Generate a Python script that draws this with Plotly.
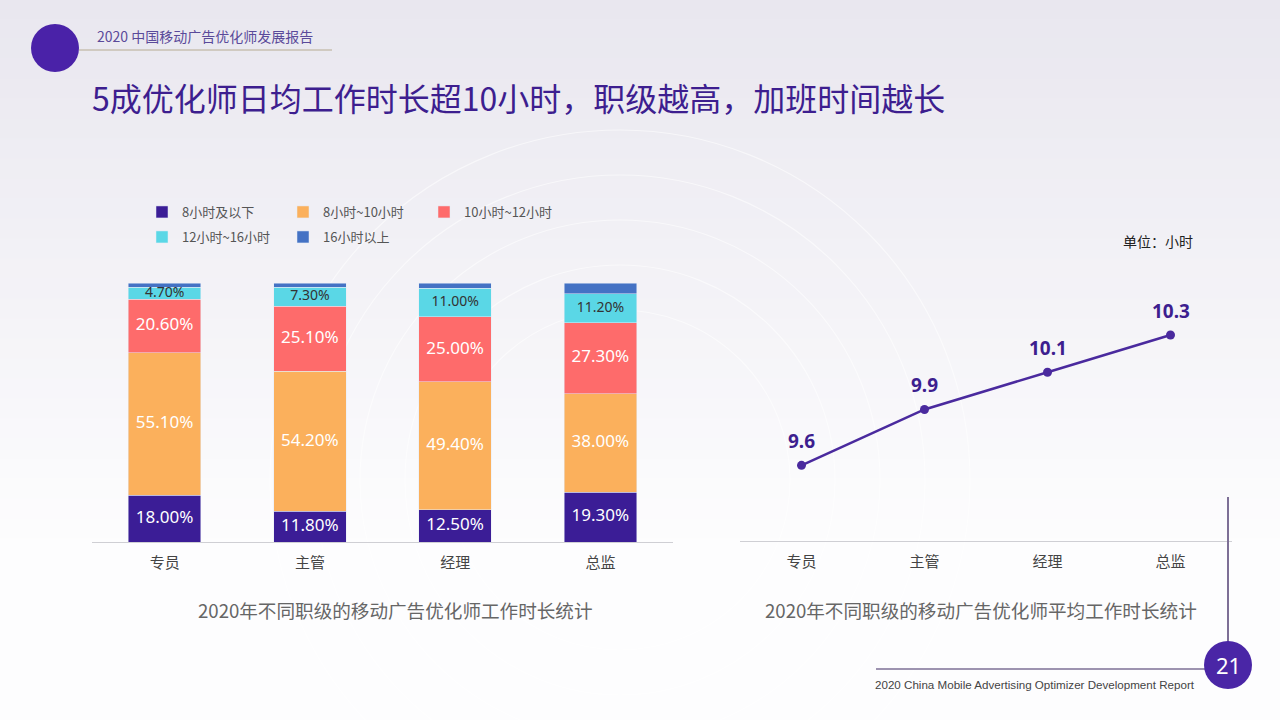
import plotly.graph_objects as go

# ---------------- data ----------------
levels = ["专员", "主管", "经理", "总监"]
series_names = ["8小时及以下", "8小时~10小时", "10小时~12小时", "12小时~16小时", "16小时以上"]
s_le8 = [18.0, 11.8, 12.5, 19.3]
s_8_10 = [55.1, 54.2, 49.4, 38.0]
s_10_12 = [20.6, 25.1, 25.0, 27.3]
s_12_16 = [4.7, 7.3, 11.0, 11.2]
s_gt16 = [1.6, 1.6, 2.1, 4.2]
avg_hours = [9.6, 9.9, 10.1, 10.3]

series_values = [s_le8, s_8_10, s_10_12, s_12_16, s_gt16]
colors = ["#3b1d96", "#fbb05c", "#fe6b6b", "#5ad7e6", "#4472c4"]
label_colors = ["white", "white", "white", "#333333", None]
label_sizes = [17, 17, 17, 14, None]

W, H = 1280, 720
CJK = "Noto Sans CJK SC, Noto Sans, sans-serif"
NUM = "Noto Sans, Noto Sans CJK SC, sans-serif"
PURPLE = "#3d1e8f"

fig = go.Figure()

# stacked bars
for i, (name, vals, col) in enumerate(zip(series_names, series_values, colors)):
    fig.add_trace(go.Bar(
        x=levels, y=vals, name=name, marker_color=col, width=0.5,
        xaxis="x", yaxis="y", legend="legend" if i < 3 else "legend2",
        hovertemplate="%{x} " + name + ": %{y:.2f}%<extra></extra>",
    ))

# labels at segment midpoints
base = [0.0] * len(levels)
for i, vals in enumerate(series_values):
    mids = [b + v / 2 for b, v in zip(base, vals)]
    if label_colors[i] is not None:
        fig.add_trace(go.Scatter(
            x=levels, y=mids, mode="text", text=[f"{v:.2f}%" for v in vals],
            textfont=dict(color=label_colors[i], size=label_sizes[i], family=NUM),
            xaxis="x", yaxis="y", showlegend=False, hoverinfo="skip",
        ))
    base = [b + v for b, v in zip(base, vals)]

# line chart
fig.add_trace(go.Scatter(
    x=levels, y=avg_hours, mode="lines+markers",
    line=dict(color="#4a2a9e", width=2.5), marker=dict(size=9, color="#4a2a9e"),
    xaxis="x2", yaxis="y2", showlegend=False,
    hovertemplate="%{x}: %{y}<extra></extra>",
))
annotations = []
for lv, v in zip(levels, avg_hours):
    annotations.append(dict(x=lv, y=v, xref="x2", yref="y2", text=f"<b>{v}</b>",
                            showarrow=False, yshift=24,
                            font=dict(size=19, color=PURPLE, family=NUM)))

# ---------------- decorations ----------------
shapes = []
# background gradient bands
top = (233, 231, 239)
bot = (253, 253, 254)
n = 36
for k in range(n):
    t = min(1.0, k / (n * 0.75))
    c = tuple(int(round(top[j] + (bot[j] - top[j]) * t)) for j in range(3))
    shapes.append(dict(type="rect", xref="paper", yref="paper", x0=0, x1=1,
                       y0=1 - (k + 1) / n, y1=1 - k / n + 0.002, line=dict(width=0),
                       fillcolor=f"rgb{c}", layer="below"))
# faint arcs
for r in [170, 215, 260, 305, 350]:
    shapes.append(dict(type="circle", xref="paper", yref="paper",
                       x0=(620 - r) / W, x1=(620 + r) / W,
                       y0=1 - (480 + r) / H, y1=1 - (480 - r) / H,
                       line=dict(color="rgba(255,255,255,0.55)", width=1.2), layer="below"))
# header circle and line
shapes.append(dict(type="circle", xref="paper", yref="paper",
                   x0=31 / W, x1=79 / W, y0=1 - 72 / H, y1=1 - 24 / H,
                   fillcolor="#4a22a8", line=dict(width=0)))
shapes.append(dict(type="line", xref="paper", yref="paper",
                   x0=79 / W, x1=332 / W, y0=1 - 50 / H, y1=1 - 50 / H,
                   line=dict(color="#b5ab92", width=1.2)))
# right vertical line & footer
shapes.append(dict(type="line", xref="paper", yref="paper",
                   x0=1228 / W, x1=1228 / W, y0=1 - 497 / H, y1=1 - 660 / H,
                   line=dict(color="#7d6f96", width=2)))
shapes.append(dict(type="line", xref="paper", yref="paper",
                   x0=876 / W, x1=1210 / W, y0=1 - 669 / H, y1=1 - 669 / H,
                   line=dict(color="#7d6f96", width=1.5)))
shapes.append(dict(type="circle", xref="paper", yref="paper",
                   x0=1204 / W, x1=1252 / W, y0=1 - 689 / H, y1=1 - 641 / H,
                   fillcolor="#4a26a6", line=dict(width=0)))

def ann(text, x, y, size, color, xanchor="left", family=CJK):
    annotations.append(dict(text=text, x=x / W, y=1 - y / H, xref="paper", yref="paper",
                            xanchor=xanchor, yanchor="middle", showarrow=False,
                            font=dict(size=size, color=color, family=family)))

ann("2020 中国移动广告优化师发展报告", 95, 36, 14, "#5a4a9a")
ann("5成优化师日均工作时长超10小时，职级越高，加班时间越长", 90, 97, 32, PURPLE)
ann("单位：小时", 1121, 241, 14, "#222222")
ann("2020年不同职级的移动广告优化师工作时长统计", 395, 609, 18.6, "#666666", "center")
ann("2020年不同职级的移动广告优化师平均工作时长统计", 981, 609, 18.6, "#666666", "center")
ann("2020 China Mobile Advertising Optimizer Development Report", 1035, 684, 11.6,
    "#444444", "center", "Liberation Sans, Arial, sans-serif")
ann("21", 1228, 665, 22, "white", "center", NUM)

legend_common = dict(orientation="h", bgcolor="rgba(0,0,0,0)",
                     font=dict(size=13, color="#555555", family=CJK),
                     entrywidth=96, entrywidthmode="pixels",
                     itemwidth=30, xanchor="left", yanchor="middle", traceorder="normal")

fig.update_layout(
    width=W, height=H, margin=dict(l=0, r=0, t=0, b=0),
    paper_bgcolor="white", plot_bgcolor="rgba(0,0,0,0)",
    barmode="stack", bargap=0.5,
    font=dict(family=CJK),
    xaxis=dict(domain=[92 / W, 673 / W], range=[-0.5, 3.5], showline=True,
               linecolor="#cfcfd4", linewidth=1, showgrid=False, zeroline=False,
               tickfont=dict(size=15, color="#444444"), ticks="", ticklabelstandoff=7,
               anchor="y", fixedrange=True),
    yaxis=dict(domain=[1 - 542 / H, 1 - 283 / H], range=[0, 100], visible=False,
               fixedrange=True),
    xaxis2=dict(domain=[740 / W, 1232 / W], range=[-0.5, 3.5], showline=True,
                linecolor="#cfcfd4", linewidth=1, showgrid=False, zeroline=False,
                tickfont=dict(size=15, color="#444444"), ticks="", ticklabelstandoff=7,
                anchor="y2", fixedrange=True),
    yaxis2=dict(domain=[1 - 541 / H, 1 - 300 / H], range=[9.1936, 10.4877],
                visible=False, fixedrange=True),
    legend=dict(x=142 / W, y=1 - 212 / H, **legend_common),
    legend2=dict(x=142 / W, y=1 - 237 / H, **legend_common),
    shapes=shapes, annotations=annotations,
)

fig.write_html("out.html", config={"displayModeBar": False},
               post_script="document.body.style.margin='0';document.body.style.overflow='hidden';")
